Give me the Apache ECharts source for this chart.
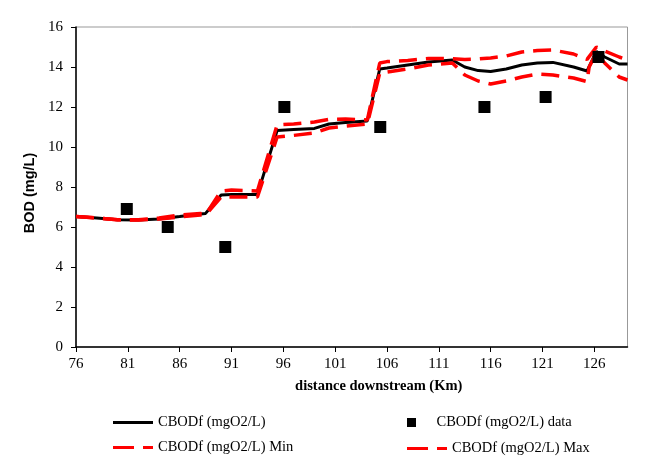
<!DOCTYPE html>
<html>
<head>
<meta charset="utf-8">
<script src="https://cdn.jsdelivr.net/npm/echarts@6/dist/echarts.min.js"></script>
<style>
  html, body { margin: 0; padding: 0; background: #fff; }
  #chart { width: 645px; height: 471px; }
</style>
</head>
<body>
<div id="chart"></div>
<script>
// distance downstream (km) shared by the three model lines
const km = [76, 78, 80, 82, 84, 86, 88, 88.5, 90, 91, 93.5, 95.4, 97, 99, 100.4, 102, 104.1,
  105.3, 106, 108, 110, 112.3, 113.5, 114.8, 116, 117.5, 119, 120.5, 122, 124, 125.3, 125.5,
  126.2, 127, 128.4, 129.2];
const cbodMain = [6.52, 6.45, 6.36, 6.35, 6.40, 6.52, 6.65, 6.68, 7.6, 7.62, 7.62, 10.82, 10.88, 10.93, 11.15, 11.22, 11.3,
  13.9, 13.95, 14.1, 14.25, 14.35, 14.0, 13.82, 13.78, 13.9, 14.1, 14.2, 14.23, 14.0, 13.8, 14.02,
  14.78, 14.5, 14.15, 14.15];
const cbodMax = [6.52, 6.45, 6.36, 6.36, 6.45, 6.6, 6.68, 6.62, 7.8, 7.85, 7.8, 11.1, 11.15, 11.25, 11.38, 11.4, 11.35,
  14.2, 14.27, 14.33, 14.42, 14.42, 14.38, 14.4, 14.45, 14.55, 14.75, 14.82, 14.85, 14.65, 14.38, 14.52,
  15.0, 14.8, 14.5, 14.35];
const cbodMin = [6.52, 6.45, 6.36, 6.35, 6.4, 6.5, 6.6, 6.6, 7.5, 7.5, 7.5, 10.5, 10.58, 10.7, 10.95, 11.05, 11.15,
  13.7, 13.75, 13.9, 14.1, 14.2, 13.6, 13.3, 13.15, 13.3, 13.5, 13.65, 13.6, 13.45, 13.27, 14.0,
  14.7, 14.2, 13.5, 13.35];
// measured data
const obsKm = [80.9, 84.85, 90.4, 96.1, 105.35, 115.4, 121.3, 126.4];
const obsVal = [6.9, 6.0, 5.0, 12.0, 11.0, 12.0, 12.5, 14.5];

const names = ['CBODf (mgO2/L)', 'CBODf (mgO2/L) data', 'CBODf (mgO2/L) Min', 'CBODf (mgO2/L) Max'];

function pairs(xs, ys) { return xs.map((x, i) => [x, ys[i]]); }

const serif = 'Liberation Serif';
const legendText = { fontFamily: serif, fontSize: 14.5, color: '#000' };
const solidIcon = 'path://M0,0H40V3H0Z';
const dashIcon = 'path://M0,0H21V3H0Z M30,0H40V3H30Z';
const squareIcon = 'path://M0,0H1V1H0Z';

const chart = echarts.init(document.getElementById('chart'));
chart.setOption({
  backgroundColor: '#fff',
  animation: false,
  grid: { left: 76, right: 17.5, top: 27, bottom: 124, show: true, borderColor: '#999', borderWidth: 1 },
  xAxis: {
    type: 'value', min: 76, max: 129.2, interval: 5,
    name: 'distance downstream (Km)', nameLocation: 'middle', nameGap: 32,
    nameTextStyle: { fontFamily: serif, fontWeight: 'bold', fontSize: 14.5, color: '#000', padding: [0, 0, 0, 54] },
    axisLine: { lineStyle: { color: '#000', width: 1.5 } },
    axisTick: { length: 5, lineStyle: { color: '#000' } },
    axisLabel: { fontFamily: serif, fontSize: 15, color: '#000', margin: 10, showMaxLabel: false },
    splitLine: { show: false }
  },
  yAxis: {
    type: 'value', min: 0, max: 16, interval: 2,
    name: 'BOD (mg/L)', nameLocation: 'middle', nameGap: 35,
    nameTextStyle: { fontFamily: 'Liberation Sans', fontWeight: 'bold', fontSize: 14.5, color: '#000', padding: [0, 12, 0, 0] },
    axisLine: { show: true, lineStyle: { color: '#000', width: 1.5 } },
    axisTick: { show: true, length: 5, lineStyle: { color: '#000' } },
    axisLabel: { fontFamily: serif, fontSize: 15, color: '#000', margin: 13 },
    splitLine: { show: false }
  },
  legend: [
    { data: [{ name: names[0], icon: solidIcon }, { name: names[2], icon: dashIcon }],
      orient: 'vertical', left: 108, top: 410, itemWidth: 40, itemHeight: 12,
      itemGap: 10, textStyle: legendText },
    { data: [{ name: names[1], icon: squareIcon }],
      left: 402, top: 410, itemWidth: 40, itemHeight: 9, textStyle: legendText },
    { data: [{ name: names[3], icon: dashIcon }],
      left: 402, top: 436, itemWidth: 40, itemHeight: 12, textStyle: legendText }
  ],
  series: [
    { name: names[0], type: 'line', data: pairs(km, cbodMain), symbol: 'none', z: 2,
      lineStyle: { color: '#000', width: 3 }, itemStyle: { color: '#000' } },
    { name: names[2], type: 'line', data: pairs(km, cbodMin), symbol: 'none', z: 3,
      lineStyle: { color: '#f00', width: 3.5, type: [18, 9] }, itemStyle: { color: '#f00' } },
    { name: names[3], type: 'line', data: pairs(km, cbodMax), symbol: 'none', z: 3,
      lineStyle: { color: '#f00', width: 3.5, type: [18, 9] }, itemStyle: { color: '#f00' } },
    { name: names[1], type: 'scatter', data: pairs(obsKm, obsVal), symbol: 'rect', symbolSize: 12, z: 4,
      itemStyle: { color: '#000', opacity: 1 } }
  ]
});
</script>
</body>
</html>
